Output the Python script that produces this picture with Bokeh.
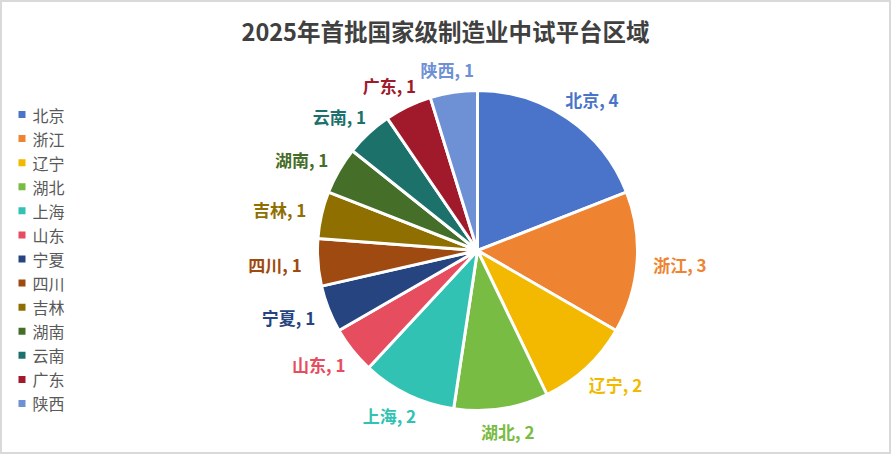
import math
from bokeh.plotting import figure
from bokeh.models import ColumnDataSource
from bokeh.core.properties import value
from bokeh.embed import file_html
from bokeh.resources import INLINE

title = "2025年首批国家级制造业中试平台区域"
regions = ["北京", "浙江", "辽宁", "湖北", "上海", "山东", "宁夏", "四川", "吉林", "湖南", "云南", "广东", "陕西"]
counts = [4, 3, 2, 2, 2, 1, 1, 1, 1, 1, 1, 1, 1]
colors = ["#4A74C9", "#EE8431", "#F2B900", "#78BC43", "#31C2B3", "#E64D5E", "#264480",
          "#9E4A10", "#8F6F00", "#456E28", "#1C716A", "#A01A2C", "#6E90D4"]

FONT = "Noto Sans CJK SC"
W, H = 891, 454
# data units are pixels of the picture (y measured upward)
cx, cy, R = 477, 204, 160

total = sum(counts)
starts, ends, lx, ly, labels = [], [], [], [], []
acc = 0
for n, c in zip(regions, counts):
    f0 = acc / total
    acc += c
    f1 = acc / total
    starts.append(math.pi / 2 - f0 * 2 * math.pi)
    ends.append(math.pi / 2 - f1 * 2 * math.pi)
    th = (f0 + f1) / 2 * 2 * math.pi
    # labels sit on an ellipse just outside the rim
    lx.append(cx + 203 * math.sin(th))
    ly.append(cy + 183 * math.cos(th))
    labels.append(f"{n}, {c}")

src = ColumnDataSource(dict(region=regions, count=counts, color=colors, start=starts, end=ends,
                            lx=lx, ly=ly, label=labels,
                            gx=[21.5] * len(regions), gy=[454 - (114 + 24.08 * i) for i in range(len(regions))],
                            tx=[32] * len(regions)))

p = figure(width=W, height=H, x_range=(0, W), y_range=(0, H),
           output_backend="svg", toolbar_location=None, min_border=0)
p.axis.visible = False
p.grid.visible = False
p.outline_line_color = "#D9D9D9"
p.outline_line_width = 3

p.wedge(x=cx, y=cy, radius=R, start_angle="start", end_angle="end", direction="clock",
        fill_color="color", line_color="white", line_width=3, source=src)

p.text(x="lx", y="ly", text="label", text_color="color", text_font=value(FONT),
       text_font_style="bold", text_font_size="17px", text_align="center",
       text_baseline="middle", source=src)

# legend
p.scatter(x="gx", y="gy", marker="square", size=7, fill_color="color", line_color=None, source=src)
p.text(x="tx", y="gy", text="region", text_color="#595959", text_font=value(FONT),
       text_font_size="16px", text_baseline="middle", source=src)

p.text(x=[445], y=[454 - 30], text=[title], text_color="#404040", text_font=value(FONT),
       text_font_style="bold", text_font_size="23.5px", text_align="center", text_baseline="middle")

open("out.html", "w").write(file_html(p, INLINE))
